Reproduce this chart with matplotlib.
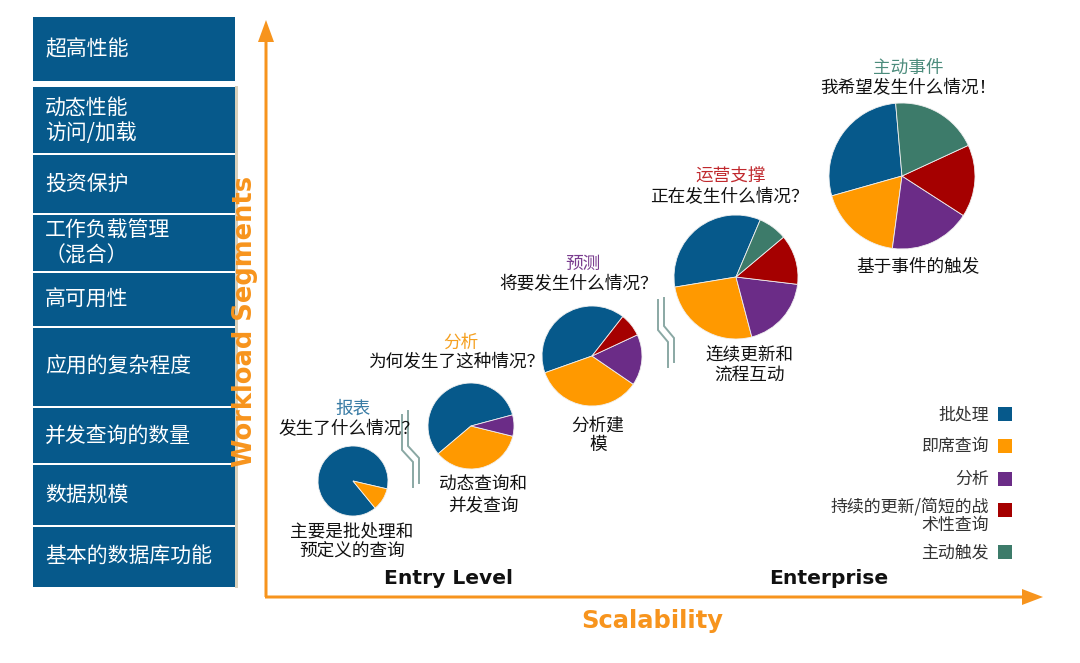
import matplotlib
matplotlib.use("Agg")
import matplotlib.pyplot as plt
from matplotlib.patches import Rectangle, FancyArrow

plt.rcParams["font.family"] = ["Noto Sans CJK SC", "DejaVu Sans"]

# ---- data ----
SEGMENTS = ["超高性能", "动态性能\n访问/加载", "投资保护", "工作负载管理\n（混合）",
            "高可用性", "应用的复杂程度", "并发查询的数量", "数据规模", "基本的数据库功能"]

STAGE_TITLES = ["报表", "分析", "预测", "运营支撑", "主动事件"]
STAGE_QUESTIONS = ["发生了什么情况？", "为何发生了这种情况？", "将要发生什么情况？",
                   "正在发生什么情况？", "我希望发生什么情况！"]
STAGE_NOTES = ["主要是批处理和\n预定义的查询", "动态查询和\n并发查询", "分析建\n模",
               "连续更新和\n流程互动", "基于事件的触发"]

WORKLOADS = ["批处理", "即席查询", "分析", "持续的更新/简短的战\n术性查询", "主动触发"]
BATCH = [89.5, 57, 41, 34, 28]
ADHOC = [10.5, 35, 35, 26.5, 18.5]
ANALYTIC = [0, 8, 16.5, 19, 18]
TACTICAL = [0, 0, 7.5, 13, 16]
EVENT = [0, 0, 0, 7.5, 19.5]

# ---- style / layout (pixel coords, y measured from top) ----
W, H = 1080, 663
BOX_BLUE = "#06598b"
AXIS_ORANGE = "#f7941d"
WL_COLORS = ["#06598b", "#ff9900", "#6b2c87", "#a50000", "#3d7b6a"]
TITLE_COLORS = ["#3a7ca5", "#f5a020", "#7a3d8f", "#c0282d", "#4c8c7c"]
INK = "#111111"
SEG_EDGES = [16, 82, 86, 154, 214, 272, 327, 407, 464, 526, 588]
PIE_POS = [(353, 481, 35), (471, 426, 43), (592, 356, 50), (736, 277, 62), (902, 176, 73)]
START_ANGLES = [347, 15, 52, 67, 95]
TITLE_POS = [(353, 409), (461, 343), (583, 264), (731, 177), (908, 68)]
QUESTION_POS = [(349, 429), (457, 362), (579, 284), (729, 197), (908, 88)]
NOTE_POS = [(352, 541), (483, 495), (598, 435), (750, 365), (918, 266)]
LEGEND_Y = [414, 446, 479, 516, 552]


def Y(y):
    return H - y


fig = plt.figure(figsize=(W / 100, H / 100), dpi=100)
fig.patch.set_facecolor("white")
ax = fig.add_axes([0, 0, 1, 1])

# left column of workload segment boxes
box_spans = [(SEG_EDGES[0], SEG_EDGES[1])] + [
    (SEG_EDGES[i], SEG_EDGES[i + 1]) for i in range(2, len(SEG_EDGES) - 1)]
ax.add_patch(Rectangle((235, Y(588)), 3, 588 - 86, color="#d9d0ba", lw=0))
for (top, bot), label in zip(box_spans, SEGMENTS):
    ax.add_patch(Rectangle((33, Y(bot - 1)), 202, bot - top - 2, color=BOX_BLUE, lw=0))
    ax.text(45, Y((top + bot) / 2), label, color="white", fontsize=15,
            ha="left", va="center", linespacing=1.2)

# pies, one per maturity stage
for i in range(len(STAGE_TITLES)):
    vals = [BATCH[i], ADHOC[i], ANALYTIC[i], TACTICAL[i], EVENT[i]]
    keep = [(v, c) for v, c in zip(vals, WL_COLORS) if v > 0]
    cx, cy, r = PIE_POS[i]
    ax.pie([v for v, _ in keep], colors=[c for _, c in keep], center=(cx, Y(cy)),
           radius=r, startangle=START_ANGLES[i], counterclock=True,
           wedgeprops=dict(linewidth=0.6, edgecolor="#f0f0f0"))
    tx, ty = TITLE_POS[i]
    ax.text(tx, Y(ty), STAGE_TITLES[i], color=TITLE_COLORS[i], fontsize=12.7,
            ha="center", va="center")
    qx, qy = QUESTION_POS[i]
    ax.text(qx, Y(qy), STAGE_QUESTIONS[i], color=INK, fontsize=12.7,
            ha="center", va="center")
    nx, ny = NOTE_POS[i]
    ax.text(nx, Y(ny), STAGE_NOTES[i], color=INK, fontsize=12.7,
            ha="center", va="center", linespacing=1.1)

# break marks between entry level and enterprise stages
for xs, ys in [([402, 402, 413, 413], [415, 450, 462, 487]),
               ([408, 408, 419, 419], [411, 446, 458, 483]),
               ([658, 658, 668, 668], [300, 330, 342, 367]),
               ([664, 664, 674, 674], [298, 326, 338, 362])]:
    ax.plot(xs, [Y(v) for v in ys], color="#8aa8a4", lw=1.4, solid_joinstyle="miter")

# axes arrows
ax.add_patch(FancyArrow(266, Y(597), 0, 597 - 20, width=3, head_width=16,
                        head_length=22, length_includes_head=True,
                        color=AXIS_ORANGE, lw=0))
ax.add_patch(FancyArrow(265, Y(597), 1043 - 265, 0, width=3, head_width=16,
                        head_length=21, length_includes_head=True,
                        color=AXIS_ORANGE, lw=0))
ax.text(245, Y(321), "Workload Segments", rotation=90, color=AXIS_ORANGE,
        fontsize=18.5, fontweight="bold", family="DejaVu Sans", ha="center", va="center")
ax.text(652, Y(621), "Scalability", color=AXIS_ORANGE, fontsize=17.5,
        fontweight="bold", family="DejaVu Sans", ha="center", va="center")
ax.text(449, Y(579), "Entry Level", color=INK, fontsize=14.6, fontweight="bold",
        family="DejaVu Sans", ha="center", va="center")
ax.text(829, Y(579), "Enterprise", color=INK, fontsize=14.6, fontweight="bold",
        family="DejaVu Sans", ha="center", va="center")

# legend
for name, color, ly in zip(WORKLOADS, WL_COLORS, LEGEND_Y):
    ax.text(989, Y(ly), name, color="#333333", fontsize=12.2, ha="right",
            va="center", multialignment="right", linespacing=1.0)
    sq_y = ly - 6 if "\n" in name else ly
    ax.add_patch(Rectangle((998, Y(sq_y + 7)), 14, 14, color=color, lw=0))

ax.set_xlim(0, W)
ax.set_ylim(0, H)
ax.set_aspect("equal")
ax.set_axis_off()

fig.savefig("out.png", dpi=100, facecolor="white")
plt.close(fig)
